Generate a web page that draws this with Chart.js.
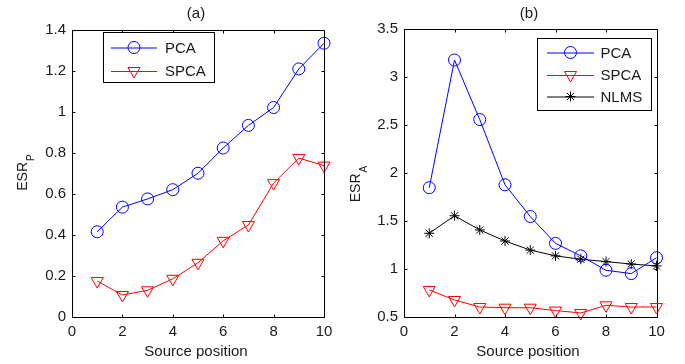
<!DOCTYPE html>
<html><head><meta charset="utf-8">
<script src="https://cdn.jsdelivr.net/npm/chart.js@4/dist/chart.umd.min.js"></script>
<style>
html,body{margin:0;padding:0;background:#fff;}
#wrap{position:relative;width:685px;height:364px;overflow:hidden;}
#ca{position:absolute;left:0;top:0;}
#cb{position:absolute;left:340px;top:0;}
</style></head>
<body><div id="wrap"><canvas id="ca" width="340" height="364"></canvas><canvas id="cb" width="345" height="364"></canvas></div>
<script>
// ---- data ----
const positions = [1,2,3,4,5,6,7,8,9,10];
const xTicks = [0,2,4,6,8,10];
const aYTicks = [0,0.2,0.4,0.6,0.8,1,1.2,1.4];
const bYTicks = [0.5,1,1.5,2,2.5,3,3.5];
const aPCA  = [0.415,0.535,0.575,0.62,0.70,0.823,0.933,1.02,1.208,1.333];
const aSPCA = [0.175,0.107,0.13,0.186,0.264,0.371,0.448,0.652,0.774,0.737];
const bPCA  = [1.85,3.18,2.56,1.88,1.55,1.27,1.14,0.99,0.955,1.12];
const bSPCA = [0.785,0.68,0.607,0.60,0.60,0.57,0.545,0.625,0.607,0.607];
const bNLMS = [1.375,1.558,1.41,1.295,1.20,1.14,1.105,1.08,1.055,1.035];

const FONT = '"Liberation Sans", Arial, sans-serif';
const TXT = '#1a1a1a';
const FS = 15;

function pts(arr){ return positions.map((x,i)=>({x:x,y:arr[i]})); }

const styles = {
  PCA:  {color:'#0000ff', pointStyle:'circle', radius:6, rotation:0},
  SPCA: {color:'#ff0000', pointStyle:'triangle', radius:7, rotation:180},
  NLMS: {color:'#000000', pointStyle:'star', radius:5, rotation:0}
};

function ds(name, arr){
  const s = styles[name];
  return {label:name, data:pts(arr), borderColor:s.color, borderWidth:1,
    pointStyle:s.pointStyle, pointRadius:s.radius, pointRotation:s.rotation,
    pointBorderColor:s.color, pointBackgroundColor:'rgba(0,0,0,0)', pointBorderWidth:1,
    pointHoverRadius:s.radius, tension:0, fill:false, clip:false};
}

const axesPlugin = {
  id:'matlabAxes',
  afterDatasetsDraw(chart, args, o){
    const ctx = chart.ctx, a = chart.chartArea;
    const xs = chart.scales.x, ys = chart.scales.y;
    ctx.save();
    ctx.strokeStyle = '#000'; ctx.lineWidth = 1;
    const L = Math.round(a.left)+0.5, R = Math.round(a.right)+0.5, T = Math.round(a.top)+0.5, B = Math.round(a.bottom)+0.5;
    ctx.beginPath(); ctx.rect(L, T, R-L, B-T); ctx.stroke();
    const tl = 3;
    ctx.beginPath();
    o.xTicks.forEach(v=>{ const px = Math.round(xs.getPixelForValue(v))+0.5;
      ctx.moveTo(px,B); ctx.lineTo(px,B-tl); ctx.moveTo(px,T); ctx.lineTo(px,T+tl); });
    o.yTicks.forEach(v=>{ const py = Math.round(ys.getPixelForValue(v))+0.5;
      ctx.moveTo(L,py); ctx.lineTo(L+tl,py); ctx.moveTo(R,py); ctx.lineTo(R-tl,py); });
    ctx.stroke();
    // legend
    const lg = o.legend;
    ctx.fillStyle = '#fff';
    ctx.fillRect(lg.x0, lg.y0, lg.x1-lg.x0, lg.y1-lg.y0);
    ctx.strokeStyle = '#000';
    ctx.strokeRect(Math.round(lg.x0)+0.5, Math.round(lg.y0)+0.5, Math.round(lg.x1-lg.x0), Math.round(lg.y1-lg.y0));
    ctx.font = FS + 'px ' + FONT; ctx.textBaseline = 'middle'; ctx.textAlign = 'left';
    lg.items.forEach((name,i)=>{
      const s = styles[name], y = lg.rows[i];
      ctx.strokeStyle = s.color; ctx.lineWidth = 1;
      ctx.beginPath(); ctx.moveTo(lg.lx0, y+0.5); ctx.lineTo(lg.lx1, y+0.5); ctx.stroke();
      ctx.fillStyle = 'rgba(0,0,0,0)';
      Chart.helpers.drawPoint(ctx, {pointStyle:s.pointStyle, rotation:s.rotation, radius:s.radius, borderWidth:1}, (lg.lx0+lg.lx1)/2, y);
      ctx.fillStyle = TXT;
      ctx.fillText(name, lg.tx, y+1);
    });
    // title
    ctx.fillStyle = TXT; ctx.font = FS + 'px ' + FONT; ctx.textAlign='center'; ctx.textBaseline='middle';
    ctx.fillText(o.title, o.titleX, 13.5);
    // x label
    ctx.textBaseline = 'alphabetic';
    ctx.fillText('Source position', o.xlabX, 356);
    // y label with subscript
    ctx.translate(o.ylab.x, o.ylab.cy);
    ctx.rotate(-Math.PI/2);
    ctx.font = '14px ' + FONT;
    const w1 = ctx.measureText('ESR').width;
    ctx.font = '10px ' + FONT;
    const w2 = ctx.measureText(o.ylab.sub).width;
    const start = -(w1 + 1 + w2)/2;
    ctx.textAlign = 'left';
    ctx.font = '14px ' + FONT;
    ctx.fillText('ESR', start, 0);
    ctx.font = '10px ' + FONT;
    ctx.fillText(o.ylab.sub, start + w1 + 1, 6.5);
    ctx.restore();
  }
};

function makeChart(id, datasets, yMin, yMax, yTicks, yWidth, pad, xHeight, opts){
  return new Chart(document.getElementById(id), {
    type:'line',
    data:{datasets:datasets},
    options:{
      responsive:false, animation:false, devicePixelRatio:1,
      layout:{padding:pad},
      plugins:{legend:{display:false}, tooltip:{enabled:false}, title:{display:false}, matlabAxes:opts},
      scales:{
        x:{type:'linear', min:0, max:10,
          afterBuildTicks: s => { s.ticks = xTicks.map(v=>({value:v})); },
          afterFit: s => { s.height = xHeight; },
          grid:{display:false, drawTicks:false}, border:{display:false},
          ticks:{padding:6, color:TXT, font:{size:FS, family:FONT}, maxRotation:0, autoSkip:false,
            callback: v => String(v)}},
        y:{type:'linear', min:yMin, max:yMax,
          afterBuildTicks: s => { s.ticks = yTicks.map(v=>({value:v})); },
          afterFit: s => { s.width = yWidth; },
          grid:{display:false, drawTicks:false}, border:{display:false},
          ticks:{padding:6, color:TXT, font:{size:FS, family:FONT}, autoSkip:false,
            callback: v => String(Math.round(v*10)/10)}}
      }
    },
    plugins:[axesPlugin]
  });
}

makeChart('ca', [ds('PCA', aPCA), ds('SPCA', aSPCA)], 0, 1.4, aYTicks, 72,
  {left:0, top:29.5, right:16, bottom:0}, 47,
  {xTicks:xTicks, yTicks:aYTicks, title:'(a)', titleX:196, xlabX:196,
   ylab:{x:27, cy:172.5, sub:'P'},
   legend:{x0:102.5, y0:32, x1:213, y1:82, rows:[47.5,71], lx0:111, lx1:157, tx:165, items:['PCA','SPCA']}});

makeChart('cb', [ds('PCA', bPCA), ds('SPCA', bSPCA), ds('NLMS', bNLMS)], 0.5, 3.5, bYTicks, 64,
  {left:0, top:29.3, right:28.5, bottom:0}, 46.7,
  {xTicks:xTicks, yTicks:bYTicks, title:'(b)', titleX:189, xlabX:188,
   ylab:{x:20, cy:184, sub:'A'},
   legend:{x0:197, y0:37.5, x1:310.5, y1:109, rows:[52.5,75,96.5], lx0:207, lx1:254, tx:260.5, items:['PCA','SPCA','NLMS']}});
</script>
</body></html>
